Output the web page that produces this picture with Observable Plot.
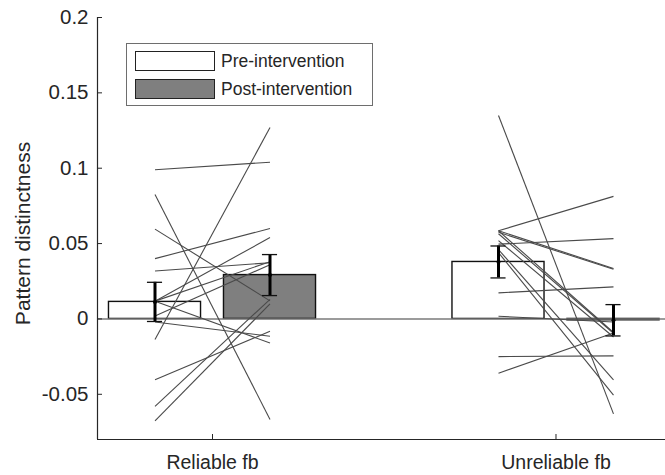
<!DOCTYPE html>
<html>
<head>
<meta charset="utf-8">
<script src="https://cdn.jsdelivr.net/npm/d3@7"></script>
<script src="https://cdn.jsdelivr.net/npm/@observablehq/plot@0.6"></script>
<style>
  html, body { margin: 0; padding: 0; background: #fff; overflow: hidden; }
  #wrap { position: relative; width: 665px; height: 475px; font-family: "Liberation Sans", Arial, sans-serif; }
  #chart g[aria-label="y-axis tick label"] text { font-size: 20.5px; }
  #chart g[aria-label="x-axis tick label"] text { font-size: 19.5px; }
  #chart g[aria-label="text"] text { font-size: 21px; }
  #legend { position: absolute; left: 126px; top: 43px; width: 247px; height: 63px; border: 1px solid #6e6e6e; background: #fff; box-sizing: border-box; }
  .entry { position: absolute; left: 8px; height: 22px; display: flex; align-items: center; }
  .sw { width: 80px; height: 20px; border: 1px solid #222; box-sizing: border-box; margin-right: 6px; }
  .lab { font-size: 17.5px; color: #262626; }
</style>
</head>
<body>
<div id="wrap">
  <div id="chart"></div>
  <div id="legend">
    <div class="entry" style="top:6px"><div class="sw" style="background:#fff"></div><span class="lab">Pre-intervention</span></div>
    <div class="entry" style="top:34px"><div class="sw" style="background:#7f7f7f"></div><span class="lab">Post-intervention</span></div>
  </div>
</div>
<script>
// ---- data ----
const categories = ["Reliable fb", "Unreliable fb"];
const groupPos = [1, 2];
const yLabel = "Pattern distinctness";
const preMeans = [0.0113, 0.0378];
const postMeans = [0.0291, -0.0009];
const preSem = [0.0130, 0.0106];
const postSem = [0.0136, 0.0104];

const reliablePre  = [0.099, 0.0825, 0.0596, 0.040, 0.0318, 0.0118, 0.0118, 0.002, -0.0137, 0.0118, -0.002, -0.0404, -0.058, -0.0677];
const reliablePost = [0.104, -0.0667, 0.012, 0.060, 0.0373, 0.054, 0.038, 0.036, 0.127, -0.016, -0.0115, -0.0082, 0.013, 0.010];
const unreliablePre  = [0.135, 0.0585, 0.0585, 0.0575, 0.0496, 0.0585, 0.0565, 0.046, 0.044, 0.0173, 0.0018, -0.025, -0.036, 0.052];
const unreliablePost = [-0.063, 0.0813, 0.0335, 0.0330, 0.0533, -0.009, -0.0095, -0.0404, -0.0505, 0.0213, -0.002, -0.0245, -0.0093, -0.012];

const yTicks = [-0.05, 0, 0.05, 0.1, 0.15, 0.2];
const seriesNames = ["Pre-intervention", "Post-intervention"];
const seriesFill = ["#ffffff", "#7f7f7f"];

// ---- derived tables ----
const offset = 0.1674;   // bar centre offset within group
const barW = 0.268;      // bar width in x units
const xDomain = [0.6652, 2.3188];
const yDomain = [-0.08, 0.2];

const bars = [];
groupPos.forEach((g, i) => {
  bars.push({g, s: 0, x: g - offset, mean: preMeans[i], sem: preSem[i]});
  bars.push({g, s: 1, x: g + offset, mean: postMeans[i], sem: postSem[i]});
});
const subjects = [];
reliablePre.forEach((v, i) => subjects.push({g: 1, pre: v, post: reliablePost[i]}));
unreliablePre.forEach((v, i) => subjects.push({g: 2, pre: v, post: unreliablePost[i]}));

const axisColor = "#262626";
const font = "Liberation Sans, Arial, sans-serif";

const chart = Plot.plot({
  width: 665,
  height: 475,
  marginLeft: 97,
  marginRight: 0,
  marginTop: 17,
  marginBottom: 36,
  style: {fontFamily: font, background: "#fff", overflow: "visible"},
  x: {type: "linear", domain: xDomain},
  y: {domain: yDomain},
  marks: [
    Plot.rect(bars, {
      x1: d => d.x - barW / 2, x2: d => d.x + barW / 2, y1: 0, y2: "mean",
      fill: d => seriesFill[d.s], stroke: "#111", strokeWidth: 1.4
    }),
    Plot.ruleY([0], {stroke: "#7a7a7a", strokeWidth: 1.6}),
    Plot.link(subjects, {
      x1: d => d.g - offset, x2: d => d.g + offset, y1: "pre", y2: "post",
      stroke: "#4a4a4a", strokeWidth: 1.1
    }),
    Plot.ruleX(bars, {x: "x", y1: d => d.mean - d.sem, y2: d => d.mean + d.sem, stroke: "#000", strokeWidth: 3}),
    Plot.ruleY(bars, {y: d => d.mean + d.sem, x1: d => d.x - 0.022, x2: d => d.x + 0.022, stroke: "#111", strokeWidth: 1.3}),
    Plot.ruleY(bars, {y: d => d.mean - d.sem, x1: d => d.x - 0.022, x2: d => d.x + 0.022, stroke: "#111", strokeWidth: 1.3}),
    Plot.dot(bars, {x: "x", y: "mean", r: 2, fill: "#000"}),
    // axis lines
    Plot.ruleX([xDomain[0]], {stroke: axisColor, strokeWidth: 1.2}),
    Plot.ruleY([yDomain[0]], {stroke: axisColor, strokeWidth: 1.2}),
    Plot.axisY({
      ticks: yTicks, tickFormat: d => String(d), tickSize: -5, tickPadding: 14,
      color: axisColor, stroke: axisColor, label: null
    }),
    Plot.axisX({
      ticks: groupPos, tickFormat: d => categories[d - 1], tickSize: -5, tickPadding: 21,
      color: axisColor, stroke: axisColor, label: null
    }),
    Plot.text([yLabel], {
      frameAnchor: "left", textAnchor: "middle", lineAnchor: "middle",
      rotate: -90, dx: -74, dy: 5, fill: axisColor, text: d => d
    })
  ]
});
document.getElementById("chart").appendChild(chart);
</script>
</body>
</html>
